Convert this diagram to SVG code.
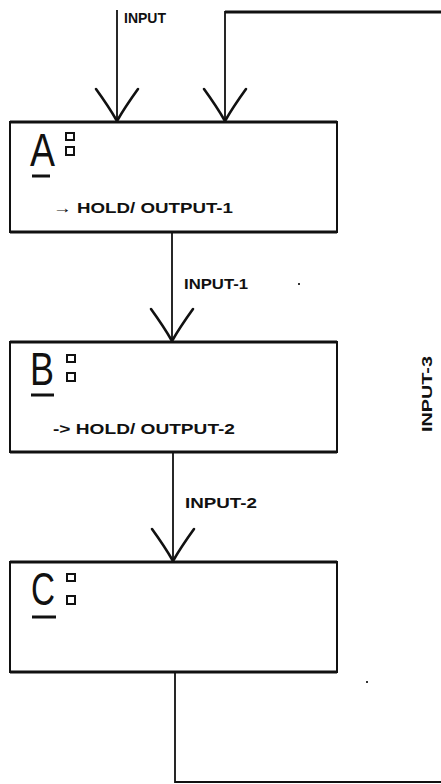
<svg xmlns="http://www.w3.org/2000/svg" width="441" height="784" viewBox="0 0 441 784">
<defs>
<marker id="v" markerUnits="userSpaceOnUse" viewBox="-36 -26 40 52" markerWidth="40" markerHeight="52" refX="0" refY="0" orient="auto">
<path d="M-32,-21 Q-14,-8 0,0 Q-14,8 -32,21" fill="none" stroke="#111" stroke-width="2.6" stroke-linecap="round" stroke-linejoin="round"/>
</marker>
</defs>
<style>
.box{fill:#fff;stroke:#111;stroke-width:2}
.edge{stroke:#111;stroke-width:3}
.conn{fill:none;stroke:#111;stroke-width:1.8}
.big{font-family:"Liberation Sans",Arial,sans-serif;font-size:46px;fill:#111}
.lbl{font-family:"Liberation Sans",Arial,sans-serif;font-size:15px;font-weight:bold;fill:#111}
.sq{fill:#fff;stroke:#111;stroke-width:2}
.ul{stroke:#111;stroke-width:3}
.dot{fill:#333}
</style>
<rect width="441" height="784" fill="#fff"/>
<g id="connectors">
<line class="conn" x1="117" y1="10" x2="117" y2="121" marker-end="url(#v)"/>
<polyline class="conn" points="441,12 225,12 225,121" marker-end="url(#v)"/>
<line x1="225" y1="12" x2="441" y2="12" stroke="#111" stroke-width="3"/>
<line class="conn" x1="172" y1="233" x2="172" y2="341" marker-end="url(#v)"/>
<line class="conn" x1="173" y1="453" x2="173" y2="561" marker-end="url(#v)"/>
<polyline class="conn" points="175,673 175,782 441,782"/>
<text class="lbl" x="124" y="23" textLength="42" lengthAdjust="spacingAndGlyphs">INPUT</text>
<text class="lbl" x="184" y="289" textLength="64" lengthAdjust="spacingAndGlyphs">INPUT-1</text>
<text class="lbl" x="185" y="508" textLength="72" lengthAdjust="spacingAndGlyphs">INPUT-2</text>
<text class="lbl" transform="translate(432,432) rotate(-90)" x="0" y="0" textLength="76" lengthAdjust="spacingAndGlyphs">INPUT-3</text>
</g>
<g id="nodeA">
<rect class="box" x="10" y="122" width="327" height="110"/>
<line class="edge" x1="10" y1="122" x2="337" y2="122"/>
<line class="edge" x1="10" y1="232" x2="337" y2="232"/>
<text class="big" x="30" y="166" textLength="25" lengthAdjust="spacingAndGlyphs">A</text>
<line class="ul" x1="32" y1="176" x2="50" y2="176"/>
<rect class="sq" x="66" y="133" width="8" height="7"/>
<rect class="sq" x="66" y="147" width="8" height="8"/>
<text class="lbl" x="53" y="213" textLength="180" lengthAdjust="spacingAndGlyphs">→ HOLD/ OUTPUT-1</text>
</g>
<g id="nodeB">
<rect class="box" x="10" y="342" width="327" height="110"/>
<line class="edge" x1="10" y1="342" x2="337" y2="342"/>
<line class="edge" x1="10" y1="452" x2="337" y2="452"/>
<text class="big" x="30" y="385" textLength="24" lengthAdjust="spacingAndGlyphs">B</text>
<line class="ul" x1="31" y1="395" x2="54" y2="395"/>
<rect class="sq" x="67" y="355" width="8" height="7"/>
<rect class="sq" x="67" y="373" width="8" height="8"/>
<text class="lbl" x="53" y="434" textLength="182" lengthAdjust="spacingAndGlyphs">-&gt; HOLD/ OUTPUT-2</text>
</g>
<g id="nodeC">
<rect class="box" x="10" y="562" width="327" height="110"/>
<line class="edge" x1="10" y1="562" x2="337" y2="562"/>
<line class="edge" x1="10" y1="672" x2="337" y2="672"/>
<text class="big" x="31" y="605" textLength="24" lengthAdjust="spacingAndGlyphs">C</text>
<line class="ul" x1="32" y1="617" x2="56" y2="617"/>
<rect class="sq" x="67" y="574" width="8" height="7"/>
<rect class="sq" x="67" y="596" width="8" height="8"/>
</g>
<rect class="dot" x="366" y="681" width="2" height="2"/>
<rect class="dot" x="298" y="283" width="2" height="2"/>
</svg>
